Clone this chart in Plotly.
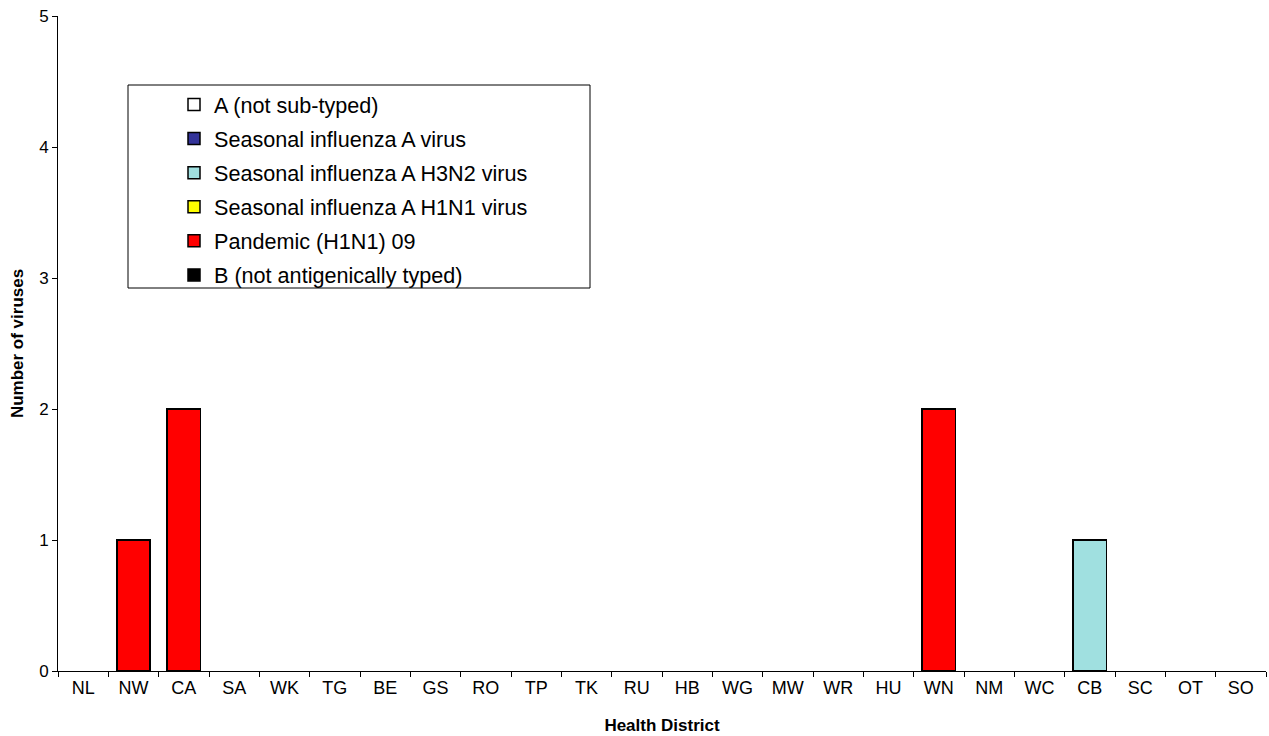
import plotly.graph_objects as go

districts = ["NL", "NW", "CA", "SA", "WK", "TG", "BE", "GS", "RO", "TP", "TK", "RU",
             "HB", "WG", "MW", "WR", "HU", "WN", "NM", "WC", "CB", "SC", "OT", "SO"]

a_not_subtyped = [0]*24
seasonal_a = [0]*24
seasonal_h3n2 = [0, 0, 0, 0, 0, 0, 0, 0, 0, 0, 0, 0, 0, 0, 0, 0, 0, 0, 0, 0, 1, 0, 0, 0]
seasonal_h1n1 = [0]*24
pandemic = [0, 1, 2, 0, 0, 0, 0, 0, 0, 0, 0, 0, 0, 0, 0, 0, 0, 2, 0, 0, 0, 0, 0, 0]
b_not_typed = [0]*24

series = [
    ("A (not sub-typed)", a_not_subtyped, "#FFFFFF"),
    ("Seasonal influenza A virus", seasonal_a, "#333399"),
    ("Seasonal influenza A H3N2 virus", seasonal_h3n2, "#A0E0E0"),
    ("Seasonal influenza A H1N1 virus", seasonal_h1n1, "#FFFF00"),
    ("Pandemic (H1N1) 09", pandemic, "#FF0000"),
    ("B (not antigenically typed)", b_not_typed, "#000000"),
]

fig = go.Figure()
for i, (name, vals, col) in enumerate(series):
    fig.add_trace(go.Bar(
        x=districts, y=[v if v else None for v in vals], name=name, legendgroup=f"g{i}",
        marker=dict(color=col, line=dict(color="#000000", width=1.5)),
        width=0.66,
    ))

PL, PR, PT, PB = 58, 1266, 16, 671
PW, PH = PR - PL, PB - PT

fig.update_layout(
    width=1269, height=736,
    barmode="stack",
    plot_bgcolor="white", paper_bgcolor="white",
    margin=dict(l=PL, r=1269 - PR, t=PT, b=736 - PB),
    font=dict(family="Liberation Sans, Arial, sans-serif", color="#000000"),
    showlegend=True,
    legend=dict(
        x=(174 - PL) / PW, y=(PB - 84) / PH, xanchor="left", yanchor="top",
        traceorder="grouped", tracegroupgap=3,
        font=dict(size=21.6, color="#000000"),
        bgcolor="rgba(0,0,0,0)", borderwidth=0,
    ),
    shapes=[dict(type="rect", xref="paper", yref="paper",
                 x0=(128 - PL) / PW, x1=(590 - PL) / PW,
                 y0=(PB - 288) / PH, y1=(PB - 85) / PH,
                 line=dict(color="#000000", width=1), fillcolor="rgba(0,0,0,0)",
                 layer="below")],
)

fig.update_xaxes(
    showline=True, linecolor="#000000", linewidth=1,
    ticks="outside", tickson="boundaries", ticklen=5, tickcolor="#000000",
    tickfont=dict(size=18), showgrid=False,
    title=dict(text="<b>Health District</b>", font=dict(size=17), standoff=22),
)
fig.update_yaxes(
    range=[0, 5], dtick=1, showline=True, linecolor="#000000", linewidth=1,
    ticks="outside", ticklen=5, tickcolor="#000000",
    tickfont=dict(size=17), showgrid=False, zeroline=False,
    title=dict(text="<b>Number of viruses</b>", font=dict(size=17), standoff=11),
)

fig.write_html("out.html", config={"displayModeBar": False},
               post_script="document.body.style.margin='0';document.body.style.padding='0';")
